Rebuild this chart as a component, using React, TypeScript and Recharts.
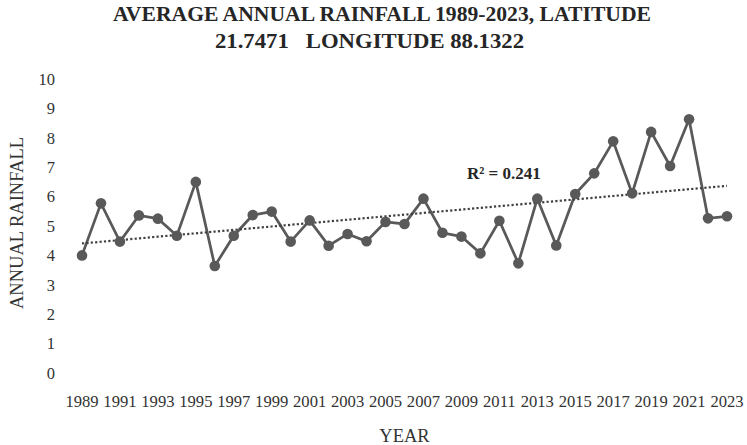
import React from "react";
import { LineChart, Line, XAxis, YAxis } from "recharts";

const years = [
  1989, 1990, 1991, 1992, 1993, 1994, 1995, 1996, 1997, 1998, 1999, 2000,
  2001, 2002, 2003, 2004, 2005, 2006, 2007, 2008, 2009, 2010, 2011, 2012,
  2013, 2014, 2015, 2016, 2017, 2018, 2019, 2020, 2021, 2022, 2023,
];
const rainfall = [
  4.0, 5.77, 4.47, 5.36, 5.25, 4.67, 6.5, 3.64, 4.67, 5.37, 5.49, 4.47,
  5.19, 4.33, 4.73, 4.48, 5.14, 5.07, 5.93, 4.77, 4.64, 4.07, 5.18, 3.73,
  5.93, 4.34, 6.09, 6.79, 7.88, 6.11, 8.2, 7.04, 8.63, 5.26, 5.33,
];
const xTicks = [
  1989, 1991, 1993, 1995, 1997, 1999, 2001, 2003, 2005, 2007, 2009, 2011,
  2013, 2015, 2017, 2019, 2021, 2023,
];
const yTicks = [0, 1, 2, 3, 4, 5, 6, 7, 8, 9, 10];
const titleLine1 = "AVERAGE ANNUAL RAINFALL 1989-2023, LATITUDE";
const titleLine2 = "21.7471   LONGITUDE 88.1322";
const r2Label = "R² = 0.241";

// least-squares linear trendline (as the spreadsheet trendline does)
const n = years.length;
const mx = years.reduce((a, b) => a + b, 0) / n;
const my = rainfall.reduce((a, b) => a + b, 0) / n;
let sxy = 0;
let sxx = 0;
for (let i = 0; i < n; i++) {
  sxy += (years[i] - mx) * (rainfall[i] - my);
  sxx += (years[i] - mx) * (years[i] - mx);
}
const slope = sxy / sxx;
const intercept = my - slope * mx;

const data = years.map((y, i) => ({
  year: y,
  rain: rainfall[i],
  trend: intercept + slope * y,
}));

const FONT = "'Liberation Serif', 'Times New Roman', serif";
const GREY = "#595959";

const XTick = (props: any) => {
  const { x, payload } = props;
  return (
    <text
      transform={`translate(${x},407) scale(0.95,1)`}
      x={0}
      y={0}
      textAnchor="middle"
      fontFamily={FONT}
      fontSize={17.5}
      fill="#333333"
    >
      {payload.value}
    </text>
  );
};

const YTick = (props: any) => {
  const { y, payload } = props;
  return (
    <text
      x={55}
      y={y}
      dy="0.35em"
      textAnchor="end"
      fontFamily={FONT}
      fontSize={16.5}
      fill="#333333"
    >
      {payload.value}
    </text>
  );
};

export default function App() {
  return (
    <div style={{ position: "absolute", left: 0, top: 0, width: 747, height: 445, background: "#fff" }}>
      <LineChart
        width={747}
        height={445}
        data={data}
        margin={{ top: 79, right: 20, bottom: 42, left: 22 }}
      >
        <XAxis
          dataKey="year"
          type="number"
          domain={[1989, 2023]}
          ticks={xTicks}
          axisLine={false}
          tickLine={false}
          height={30}
          tick={<XTick />}
          interval={0}
        />
        <YAxis
          type="number"
          domain={[0, 10]}
          ticks={yTicks}
          axisLine={false}
          tickLine={false}
          width={60}
          tick={<YTick />}
          interval={0}
        />
        <Line
          dataKey="rain"
          stroke={GREY}
          strokeWidth={2.75}
          dot={{ r: 5.3, fill: GREY, stroke: GREY, strokeWidth: 0 }}
          isAnimationActive={false}
        />
        <Line
          dataKey="trend"
          stroke="#404040"
          strokeWidth={2.2}
          strokeDasharray="2.2 2.2"
          dot={false}
          activeDot={false}
          isAnimationActive={false}
        />
      </LineChart>
      <svg
        width={747}
        height={445}
        style={{ position: "absolute", left: 0, top: 0, pointerEvents: "none" }}
      >
        <text
          x={113}
          y={21}
          fontFamily={FONT}
          fontWeight="bold"
          fontSize={22}
          fill="#262626"
          textLength={538}
          lengthAdjust="spacingAndGlyphs"
        >
          {titleLine1}
        </text>
        <text
          x={215}
          y={48}
          fontFamily={FONT}
          fontWeight="bold"
          fontSize={22}
          fill="#262626"
          textLength={309}
          lengthAdjust="spacingAndGlyphs"
          style={{ whiteSpace: "pre" }}
        >
          {titleLine2}
        </text>
        <text
          x={467}
          y={179}
          fontFamily={FONT}
          fontWeight="bold"
          fontSize={17}
          fill="#262626"
        >
          {r2Label}
        </text>
        <text
          transform="translate(23,223) rotate(-90)"
          x={0}
          y={0}
          textAnchor="middle"
          fontFamily={FONT}
          fontSize={18.5}
          fill="#333333"
        >
          ANNUAL RAINFALL
        </text>
        <text
          x={404.5}
          y={442}
          textAnchor="middle"
          fontFamily={FONT}
          fontSize={18.5}
          fill="#333333"
        >
          YEAR
        </text>
      </svg>
    </div>
  );
}
